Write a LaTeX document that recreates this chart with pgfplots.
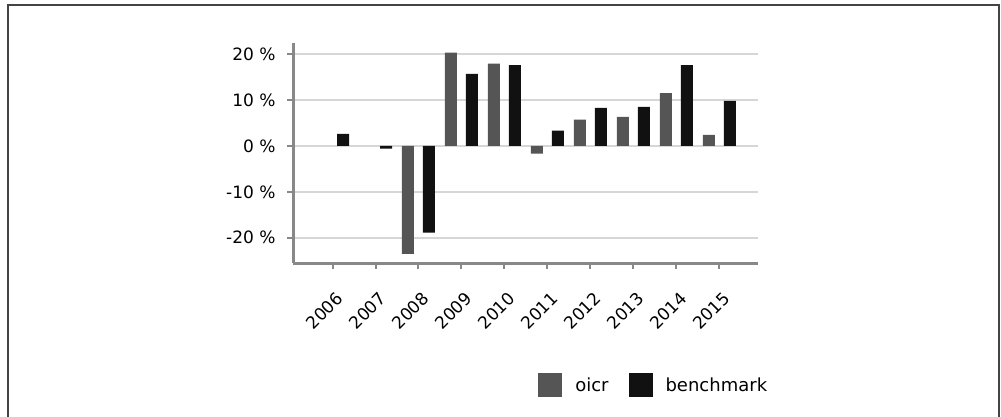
\documentclass[border=0pt]{standalone}
\usepackage{fontspec}
\setmainfont{DejaVu Sans}
\usepackage{pgfplots}
\pgfplotsset{compat=1.18}
\definecolor{oicrc}{HTML}{555555}
\definecolor{benchc}{HTML}{111111}
\definecolor{axisc}{HTML}{888888}
\definecolor{gridc}{HTML}{D6D6D6}
\definecolor{framec}{HTML}{444444}
\begin{document}
\begin{tikzpicture}
\useasboundingbox (0pt,0pt) rectangle (1001pt,-416pt);
\draw[line width=1.5pt, framec] (8pt,-417pt) -- (8pt,-5pt) -- (999pt,-5pt) -- (999pt,-417pt);
\begin{axis}[
  at={(293pt,-263pt)}, anchor=south west,
  scale only axis, width=465pt, height=220pt,
  xmin=-0.92, xmax=9.9, ymin=-25.5, ymax=22.4,
  axis lines*=left,
  axis line style={draw=axisc, line width=3pt},
  tick style={draw=axisc, line width=2pt},
  major tick length=6pt, tick align=outside,
  ymajorgrids, grid style={draw=gridc, line width=2pt},
  xtick={0,...,9},
  xticklabels={2006,2007,2008,2009,2010,2011,2012,2013,2014,2015},
  ytick={-20,-10,0,10,20},
  yticklabels={-20 \%,-10 \%,0 \%,10 \%,20 \%},
  ticklabel style={font=\fontsize{17}{20}\selectfont, text=black},
  xticklabel style={xshift=9.7pt, yshift=-24pt, rotate=45, anchor=east},
  yticklabel style={xshift=-8pt},
  ybar, bar width=12pt,
  legend columns=2,
  legend style={at={(0.527,-0.553)}, anchor=west, draw=none, fill=none,
    font=\fontsize{18}{21}\selectfont, inner sep=0pt,
    /tikz/every even column/.append style={column sep=20pt},
    nodes={inner sep=0pt, text depth=0pt}},
  legend image code/.code={\fill[#1] (0pt,-12pt) rectangle (24pt,12pt); \path (37pt,0pt);},
]
\addplot[fill=oicrc, draw=none, bar shift=-10.5pt] coordinates {
  (2,-23.5) (3,20.3) (4,17.9) (5,-1.7) (6,5.7) (7,6.3) (8,11.5) (9,2.4)};
\addplot[fill=benchc, draw=none, bar shift=10.5pt] coordinates {
  (0,2.6) (1,-0.6) (2,-18.9) (3,15.7) (4,17.6) (5,3.3) (6,8.3) (7,8.5) (8,17.6) (9,9.8)};
\legend{oicr,benchmark}
\end{axis}
\end{tikzpicture}
\end{document}
